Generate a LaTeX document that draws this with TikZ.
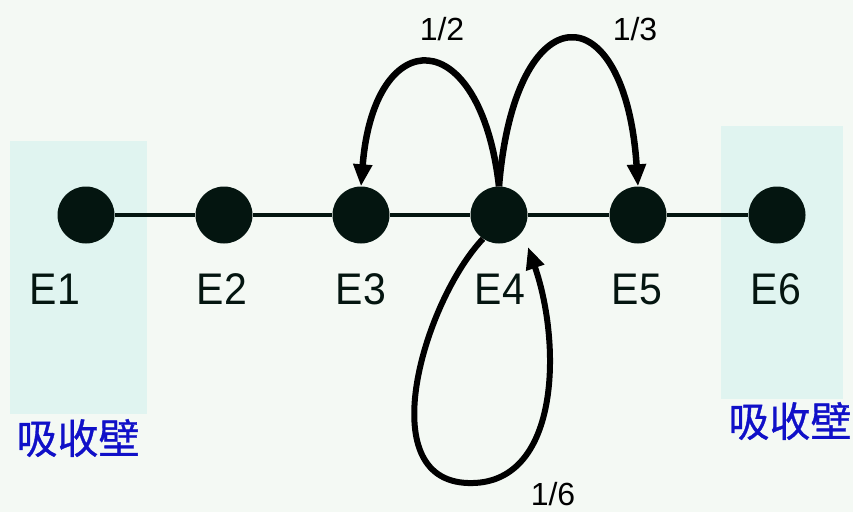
\documentclass[tikz,border=0pt]{standalone}
\usepackage{fontspec}
\usepackage{graphicx}
\setmainfont{Liberation Sans}
\newfontfamily\cjk[FakeBold=0.8]{Noto Sans CJK SC}
\usetikzlibrary{arrows.meta}
\definecolor{bg}{HTML}{F4F9F4}
\definecolor{wall}{HTML}{E0F4F0}
\definecolor{dot}{HTML}{041510}
\definecolor{cjkblue}{HTML}{1010C8}
\begin{document}
\begin{tikzpicture}[x=1pt,y=-1pt,
  state/.style={circle,fill=dot,minimum size=57pt,inner sep=0pt},
  elabel/.style={font=\fontsize{41}{41}\selectfont,text=dot,inner sep=0pt},
  plabel/.style={font=\fontsize{32}{32}\selectfont,text=black,inner sep=0pt},
  wlabel/.style={font=\cjk\fontsize{41}{41}\selectfont,text=cjkblue,inner sep=0pt},
  jump/.style={line width=6.5pt,black,-{Triangle[length=22pt,width=18pt]}},
]
\fill[bg] (0,0) rectangle (853,512);
\useasboundingbox (0,0) rectangle (853,512);
\fill[wall] (10,141) rectangle (147,414);
\fill[wall] (721,126) rectangle (843,399);

\node[state] (E1) at (86,215) {};
\node[state] (E2) at (224,215) {};
\node[state] (E3) at (361,215) {};
\node[state] (E4) at (499,215) {};
\node[state] (E5) at (638,215) {};
\node[state] (E6) at (777,215) {};

\draw[line width=3.5pt,dot] (E1) -- (E2) -- (E3) -- (E4) -- (E5) -- (E6);

\node[elabel] (L1) at (55,289) {\scalebox{1}[1.08]{E1}};
\node[elabel] (L2) at (222,289) {\scalebox{1}[1.08]{E2}};
\node[elabel] (L3) at (361,289) {\scalebox{1}[1.08]{E3}};
\node[elabel] (L4) at (500,289) {\scalebox{1}[1.08]{E4}};
\node[elabel] (L5) at (637,289) {\scalebox{1}[1.08]{E5}};
\node[elabel] (L6) at (776,289) {\scalebox{1}[1.08]{E6}};

\node[plabel] (P2) at (442,29) {1/2};
\node[plabel] (P3) at (635,29) {1/3};
\node[plabel] (P6) at (553,494) {1/6};

\node[wlabel] (W1) at (78,438) {吸收壁};
\node[wlabel] (W2) at (790,421) {吸收壁};

\draw[jump] (E4.north) .. controls (480,22) and (374,22) .. (E3.north);
\draw[jump] (E4.north) .. controls (515,-9) and (625,-9) .. (E5.north);
\coordinate (loopend) at (528,247);
\draw[jump,line width=6pt] (E4.236) .. controls (425,300) and (370,480) .. (468,483)
  .. controls (560,486) and (562,345) .. (loopend);
\end{tikzpicture}
\end{document}
